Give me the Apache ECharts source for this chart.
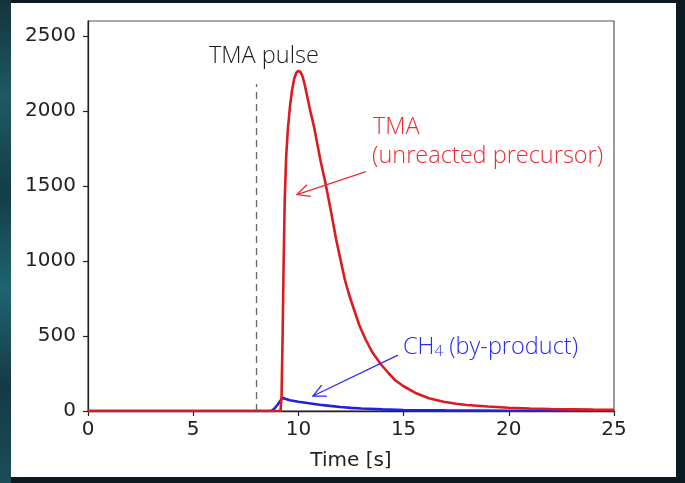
<!DOCTYPE html>
<html><head><meta charset="utf-8">
<script src="https://cdn.jsdelivr.net/npm/echarts@6/dist/echarts.min.js"></script>
<style>html,body{margin:0;padding:0;background:#0e1a21;}#c{width:685px;height:483px;}</style>
</head><body><div id="c"></div>
<script>
// Time [s] and values
const tmaTime  = [0, 9.15, 9.2, 9.25, 9.3, 9.35, 9.42, 9.5, 9.6, 9.7, 9.8, 9.9, 10.0, 10.1, 10.2, 10.3, 10.4, 10.55, 10.75, 11.05, 11.3, 11.55, 11.8, 12.0, 12.2, 12.4, 12.6, 12.9, 13.2, 13.5, 13.9, 14.3, 14.6, 15.0, 15.6, 16.2, 16.9, 17.5, 18, 19, 20, 21, 22, 23, 24, 25];
const tmaValue = [0, 0, 100, 500, 1000, 1400, 1700, 1880, 2030, 2140, 2215, 2255, 2268, 2260, 2230, 2175, 2110, 2010, 1890, 1670, 1510, 1330, 1140, 1010, 880, 780, 695, 570, 475, 395, 315, 250, 205, 165, 118, 85, 62, 48, 40, 30, 22, 17, 13, 11, 9, 8];
const ch4Time  = [0, 8.7, 8.85, 9.0, 9.15, 9.25, 9.4, 9.6, 10, 10.5, 11, 11.5, 12, 12.5, 13, 14, 15, 16, 17, 20, 25];
const ch4Value = [0, 0, 15, 40, 70, 88, 80, 72, 62, 52, 42, 34, 27, 21, 17, 11, 7, 5, 4, 2, 1];
const xTicks = [0, 5, 10, 15, 20, 25];
const yTicks = [0, 500, 1000, 1500, 2000, 2500];
const pulseTime = 8, pulseTop = 2180;

const zip = (a, b) => a.map((v, i) => [v, b[i]]);
const chart = echarts.init(document.getElementById('c'), null, {renderer: 'canvas'});
const RED = '#dd1a1f', BLUE = '#2222d8';
const tickFont = '"DejaVu Sans"';
chart.setOption({
  backgroundColor: 'transparent',
  animation: false,
  grid: {left: 88, right: 71, top: 21, bottom: 72, show: true, borderColor: '#555', borderWidth: 1.2, backgroundColor: '#fff'},
  xAxis: {
    type: 'value', min: 0, max: 25, interval: 5,
    name: 'Time [s]', nameLocation: 'middle', nameGap: 40,
    nameTextStyle: {fontFamily: tickFont, fontSize: 20, color: '#222'},
    axisLine: {show: true, onZero: false, lineStyle: {color: '#222', width: 1.3}},
    axisTick: {show: true, length: 5, lineStyle: {color: '#222', width: 1.2}, customValues: xTicks},
    axisLabel: {fontFamily: tickFont, fontSize: 20, color: '#222', margin: 9, customValues: xTicks, formatter: v => String(v)},
    splitLine: {show: false}
  },
  yAxis: {
    type: 'value', min: 0, max: 2600, interval: 500,
    axisLine: {show: true, lineStyle: {color: '#222', width: 1.3}},
    axisTick: {show: true, length: 5, lineStyle: {color: '#222', width: 1.2}, customValues: yTicks},
    axisLabel: {fontFamily: tickFont, fontSize: 20, color: '#222', margin: 12, customValues: yTicks, formatter: v => String(v)},
    splitLine: {show: false}
  },
  series: [
    {type: 'line', name: 'CH4', data: zip(ch4Time, ch4Value), showSymbol: false, smooth: false,
     lineStyle: {color: BLUE, width: 2.6}, z: 2},
    {type: 'line', name: 'TMA', data: zip(tmaTime, tmaValue), showSymbol: false, smooth: false,
     lineStyle: {color: RED, width: 2.6}, z: 3,
     markLine: {silent: true, symbol: ['none', 'none'], label: {show: false},
       lineStyle: {color: '#666', type: [7, 5], width: 1.3},
       data: [[{coord: [pulseTime, 0]}, {coord: [pulseTime, pulseTop]}]]}}
  ]
});

function arrow(x1, y1, x2, y2, color) {
  const p1 = chart.convertToPixel({gridIndex: 0}, [x1, y1]);
  const p2 = chart.convertToPixel({gridIndex: 0}, [x2, y2]);
  const ang = Math.atan2(p1[1] - p2[1], p1[0] - p2[0]);
  const L = 14, a = 0.45;
  const h1 = [p2[0] + L * Math.cos(ang + a), p2[1] + L * Math.sin(ang + a)];
  const h2 = [p2[0] + L * Math.cos(ang - a), p2[1] + L * Math.sin(ang - a)];
  return [
    {type: 'line', shape: {x1: p1[0], y1: p1[1], x2: p2[0], y2: p2[1]}, style: {stroke: color, lineWidth: 1.3}, z: 10},
    {type: 'polyline', shape: {points: [h1, p2, h2]}, style: {stroke: color, lineWidth: 1.3, fill: null}, z: 10}
  ];
}
const annFont = '"Open Sans"';
const fs = 23.5;
const g = [
  {type: 'rect', shape: {x: 0, y: 0, width: 11, height: 483}, style: {fill: new echarts.graphic.LinearGradient(0, 0, 0, 1, [
    {offset: 0, color: '#16333b'}, {offset: 0.2, color: '#1d5a63'}, {offset: 0.4, color: '#143d46'},
    {offset: 0.6, color: '#1f6470'}, {offset: 0.8, color: '#153a44'}, {offset: 1, color: '#1a4d58'}])}, z: -20},
  {type: 'rect', shape: {x: 11, y: 3, width: 665, height: 474}, style: {fill: '#ffffff'}, z: -10},
  {type: 'text', x: 209, y: 56, style: {text: 'TMA pulse', font: '300 ' + fs + 'px ' + annFont, fill: '#1a1a1a', verticalAlign: 'middle'}, z: 10},
  {type: 'text', x: 373, y: 127, style: {text: 'TMA', font: '300 ' + fs + 'px ' + annFont, fill: '#ef2a34', verticalAlign: 'middle'}, z: 10},
  {type: 'text', x: 372, y: 156, style: {text: '(unreacted precursor)', font: '300 ' + fs + 'px ' + annFont, fill: '#ef2a34', verticalAlign: 'middle'}, z: 10},
  {type: 'text', x: 403, y: 346, style: {
    text: '{a|CH}{s|4}{a| (by-product)}',
    verticalAlign: 'middle',
    rich: {
      a: {fontFamily: annFont, fontWeight: 300, fontSize: fs, fill: '#2a2af5', verticalAlign: 'bottom', lineHeight: 27},
      s: {fontFamily: annFont, fontWeight: 300, fontSize: 15, fill: '#2a2af5', verticalAlign: 'bottom', lineHeight: 23}
    }}, z: 10}
].concat(arrow(13.21, 1596, 9.93, 1443, '#ef2a34')).concat(arrow(14.73, 372, 10.69, 100, '#2a2af5'));
chart.setOption({graphic: g});
</script></body></html>
